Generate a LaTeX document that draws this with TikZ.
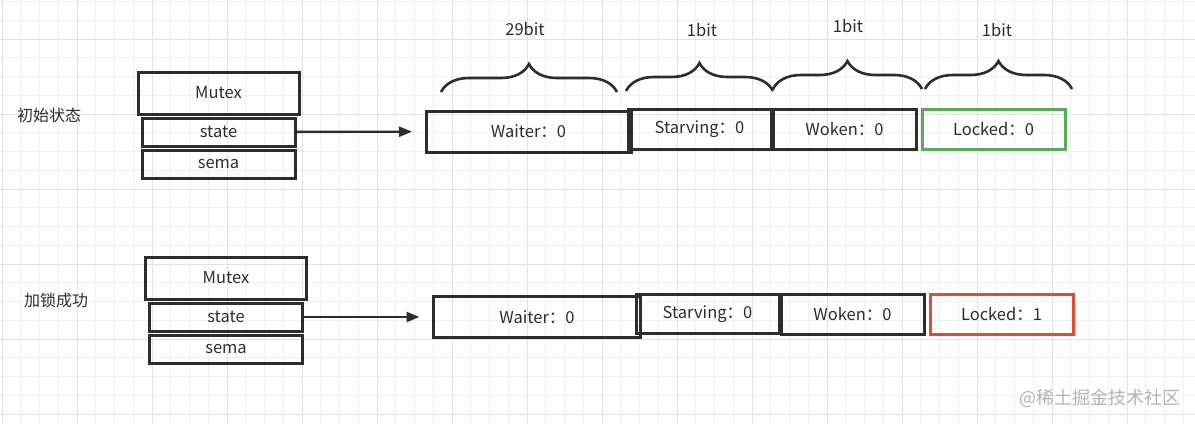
\documentclass[tikz,border=0pt]{standalone}
\usepackage{fontspec}
\setmainfont{Noto Sans CJK SC}
\usepackage{xcolor}
\usepackage{tikz}
\usetikzlibrary{positioning, arrows.meta, decorations.pathreplacing}
\definecolor{boxline}{RGB}{45,45,45}
\definecolor{lockgreen}{RGB}{90,170,90}
\definecolor{lockred}{RGB}{222,76,60}
\definecolor{gridminor}{RGB}{241,241,241}
\definecolor{gridmajor}{RGB}{226,226,226}
\definecolor{marktext}{RGB}{180,180,180}
\tikzstyle{cell} = [rectangle, draw=boxline, line width=3pt, outer sep=0pt, text=boxline, inner sep=0pt, font=\fontsize{16.5}{18}\selectfont]
\tikzstyle{mutexcell} = [cell, minimum width=161pt, minimum height=42pt]
\tikzstyle{fieldcell} = [cell, minimum width=153pt, minimum height=28pt]
\tikzstyle{waitcell} = [cell, minimum width=205pt, minimum height=41pt]
\tikzstyle{bitcell} = [cell, minimum width=143pt, minimum height=40pt]
\tikzstyle{arrow} = [line width=2.4pt, draw=boxline, -{Triangle[length=13pt,width=10pt]}, shorten >=14pt]
\tikzstyle{bitbrace} = [line width=2.6pt, draw=boxline, decorate, decoration={brace, amplitude=28pt}]
\tikzstyle{bitlabel} = [text=boxline, font=\fontsize{16.5}{18}\selectfont]
\tikzstyle{rowlabel} = [text=boxline, font=\fontsize{16}{18}\selectfont]

\begin{document}
\begin{tikzpicture}[x=1pt, y=-1pt]

\useasboundingbox (0,0) rectangle (1195,424);
\fill[white] (0,0) rectangle (1195,424);
% grid
\foreach \i in {0,...,63} \draw[gridminor, line width=0.8pt] ({2+18.75*\i},0) -- ({2+18.75*\i},424);
\foreach \j in {0,...,22} \draw[gridminor, line width=0.8pt] (0,{1.5+18.75*\j}) -- (1195,{1.5+18.75*\j});
\foreach \i in {0,...,15} \draw[gridmajor, line width=0.8pt] ({2+75*\i},0) -- ({2+75*\i},424);
\foreach \j in {0,...,5} \draw[gridmajor, line width=0.8pt] (0,{39+75*\j}) -- (1195,{39+75*\j});

% initial state
\node (init) [rowlabel] at (49,115) {初始状态};
\node (mutex1) [mutexcell] at (218.5,93) {Mutex};
\node (state1) [fieldcell, below=4pt of mutex1] {state};
\node (sema1) [fieldcell, below=4pt of state1] {sema};

\node (waiter1) [waitcell] at (528.5,131.5) {Waiter：0};
\node (starving1) [bitcell, right=-3pt of waiter1, yshift=2.5pt] {Starving：0};
\node (woken1) [bitcell, right=2pt of starving1] {Woken：0};
\node (locked1) [bitcell, draw=lockgreen, right=6pt of woken1] {Locked：0};

\node (bits29) [bitlabel] at (525,29) {29bit};
\node (bitsA) [bitlabel] at (702,30) {1bit};
\node (bitsB) [bitlabel] at (848,26) {1bit};
\node (bitsC) [bitlabel] at (997,30) {1bit};

\draw [bitbrace] (441,92) -- (617,92);
\draw [bitbrace] (626,91) -- (773,91);
\draw [bitbrace] (773,89) -- (922,89);
\draw [bitbrace] (925,89) -- (1072,89);

\draw [arrow] (state1) -- (waiter1);

% locked
\node (lockok) [rowlabel] at (56,300) {加锁成功};
\node (mutex2) [mutexcell] at (226,278) {Mutex};
\node (state2) [fieldcell, below=4pt of mutex2] {state};
\node (sema2) [fieldcell, below=4pt of state2] {sema};

\node (waiter2) [waitcell, minimum width=207pt] at (537,317) {Waiter：0};
\node (starving2) [bitcell, minimum height=39pt, right=-4.5pt of waiter2, yshift=3pt] {Starving：0};
\node (woken2) [bitcell, right=2pt of starving2] {Woken：0};
\node (locked2) [bitcell, draw=lockred, right=6pt of woken2] {Locked：1};

\draw [arrow] (state2) -- (waiter2);

\node (mark) [text=marktext, font=\fontsize{18}{20}\selectfont] at (1100,398) {@稀土掘金技术社区};

\end{tikzpicture}
\end{document}
